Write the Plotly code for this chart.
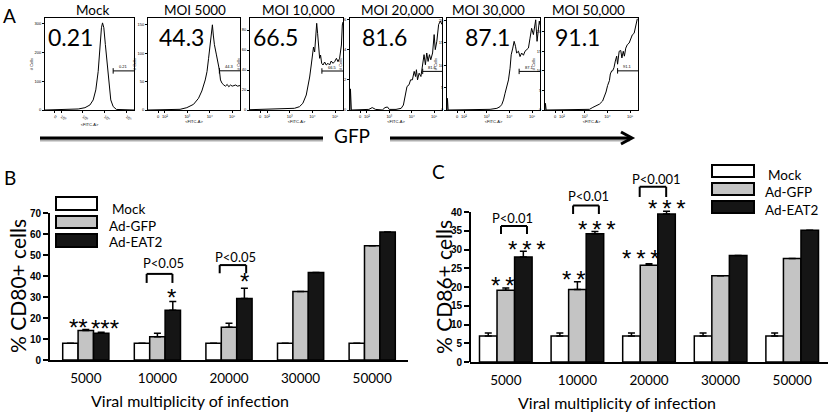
import plotly.graph_objects as go

W, H = 834, 413


def px(x):
    return x / W


def py(y):
    return 1 - y / H


TEXT_FONT = "Lato"
TICK_FONT = "Liberation Sans"

# ---------------- Panel A: flow cytometry histograms ----------------
panel_a_titles = ["Mock", "MOI 5000", "MOI 10,000", "MOI 20,000", "MOI 30,000", "MOI 50,000"]
gfp_positive = ["0.21", "44.3", "66.5", "81.6", "87.1", "91.1"]

fitc_mock = [1.25, 2.32, 2.78, 3.09, 3.32, 3.47, 3.59, 3.70, 3.77, 3.85, 3.90, 3.96, 4.03, 4.11, 4.19, 4.28, 4.39, 4.54, 5.35]
cells_mock = [0, 1, 3.5, 8, 17.5, 35, 70, 134, 216, 286, 303, 286, 228, 158, 88, 35, 12, 2, 0]

fitc_5000 = [1.25, 2.53, 2.68, 2.98, 3.28, 3.50, 3.65, 3.80, 3.88, 3.95, 4.03, 4.07, 4.12, 4.16, 4.21, 4.30, 4.37, 4.43,
             4.48, 4.55, 4.63, 4.70, 4.78, 4.85, 4.93, 5.00, 5.08, 5.16, 5.23, 5.35]
cells_5000 = [0, 0, 1.2, 4.1, 10, 20.6, 33.5, 52.9, 67.6, 91, 120.6, 138, 150, 132, 115, 97, 85, 70.6,
              52.9, 47, 44, 42, 45, 41, 44, 42, 43, 44, 42, 43]

fitc_10000 = [1.25, 2.40, 2.99, 3.21, 3.43, 3.58, 3.73, 3.80, 3.88, 3.95, 4.02, 4.05, 4.10, 4.14, 4.19, 4.23, 4.27,
              4.32, 4.36, 4.41, 4.47, 4.54, 4.61, 4.69, 4.76, 4.83, 4.91, 4.98, 5.06, 5.13, 5.20, 5.28, 5.32, 5.35]
cells_10000 = [0.3, 0.7, 1, 1.7, 3.3, 6.7, 15, 23, 33, 45, 56.7, 63, 58, 75, 86.7, 76.7, 61.7,
               51.7, 55, 46.7, 45, 48, 45, 46.7, 45, 49, 46.7, 48.3, 51.7, 48.3, 51.7, 65, 85, 88]

fitc_20000 = [1.25, 1.27, 1.31, 2.09, 2.24, 2.39, 2.69, 2.81, 2.92, 3.00, 3.30, 3.53, 3.63, 3.73, 3.79, 3.88, 3.95,
              4.03, 4.11, 4.17, 4.21, 4.26, 4.33, 4.41, 4.47, 4.55, 4.61, 4.67, 4.73, 4.79, 4.85, 4.93, 5.00,
              5.05, 5.12, 5.20, 5.28, 5.35]
cells_20000 = [0, 1.4, 0, 0.04, 0.16, 0.04, 0, 0.16, 0.2, 0.04, 0.04, 0.11, 0.33, 1.0, 1.56, 1.67, 2.0,
               2.0, 2.56, 2.22, 2.67, 2.0, 2.44, 2.22, 2.78, 3.67, 3.0, 3.78, 3.22, 3.67, 3.33, 3.78, 5.0,
               4.0, 4.56, 5.67, 5.89, 5.67]

fitc_30000 = [1.25, 1.27, 1.30, 2.67, 3.15, 3.45, 3.59, 3.67, 3.74, 3.81, 3.89, 3.96, 4.03, 4.08, 4.15, 4.21,
              4.27, 4.32, 4.40, 4.47, 4.54, 4.62, 4.69, 4.76, 4.84, 4.91, 4.98, 5.06, 5.10, 5.16, 5.22, 5.28,
              5.32, 5.35]
cells_30000 = [0, 2.6, 0, 0, 0.15, 0.37, 0.75, 1.27, 2.24, 3.73, 5.2, 6.7, 9.3, 12.3, 13.8, 15.3,
               14.2, 12.7, 13.1, 11.9, 12.7, 12.2, 13.1, 13.4, 13.8, 16.0, 18.2, 16.8, 18.6, 20.1, 15.3, 17.5,
               19.8, 19.0]

fitc_50000 = [1.25, 1.27, 1.30, 3.07, 3.21, 3.36, 3.50, 3.65, 3.79, 3.87, 3.94, 4.01, 4.09, 4.13, 4.19, 4.23,
              4.29, 4.35, 4.41, 4.45, 4.49, 4.52, 4.59, 4.64, 4.70, 4.75, 4.81, 4.88, 4.96, 5.03, 5.10, 5.18,
              5.25, 5.32]
cells_50000 = [0, 1.7, 0, 0, 0.17, 0.67, 1.0, 1.5, 2.3, 3.3, 4.6, 6.25, 7.5, 9.2, 10, 10,
               10.8, 12.5, 13.75, 11.7, 13.3, 15, 15.2, 13.3, 15, 13.75, 15.8, 16.7, 17.1, 18.3, 19.2, 19.6,
               21.7, 23.3]

hist_fitc = [fitc_mock, fitc_5000, fitc_10000, fitc_20000, fitc_30000, fitc_50000]
hist_cells = [cells_mock, cells_5000, cells_10000, cells_20000, cells_30000, cells_50000]
hist_ymax = [320, 162, 92, 6.1, 20.5, 23.5]
hist_yticks = [[0, 100, 200, 300], [0, 50, 100, 150], [0, 20, 40, 60, 80], [0, 2, 4, 6],
               [0, 5, 10, 15, 20], [0, 5, 10, 15, 20]]
gate_level = [136, 69, 39, 2.56, 8.6, 10]
gate_start = [4.39, 4.43, 4.42, 4.49, 4.43, 4.45]
fitc_range = [1.25, 5.35]
fitc_tickvals = [1.7, 2.0, 3, 4, 5]
fitc_ticktext = ["0", "10²", "10³", "10⁴", "10⁵"]

# ---------------- Panels B and C: bar charts ----------------
moi = ["5000", "10000", "20000", "30000", "50000"]
groups = ["Mock", "Ad-GFP", "Ad-EAT2"]

cd80_mock = [8.0, 8.0, 8.0, 8.0, 8.0]
cd80_gfp = [14.0, 11.1, 15.6, 32.6, 54.4]
cd80_eat2 = [12.7, 23.7, 29.3, 41.7, 60.9]
cd80_mock_err = [0, 0, 0, 0, 0]
cd80_gfp_err = [0.5, 1.6, 1.9, 0, 0]
cd80_eat2_err = [0.5, 4.2, 4.9, 0, 0]

cd86_mock = [6.9, 6.9, 6.9, 6.9, 6.9]
cd86_gfp = [19.1, 19.3, 25.8, 23.0, 27.6]
cd86_eat2 = [28.0, 34.2, 39.5, 28.4, 35.1]
cd86_mock_err = [0.8, 0.8, 0.8, 0.8, 0.8]
cd86_gfp_err = [0.6, 2.1, 0.4, 0, 0]
cd86_eat2_err = [1.5, 0.6, 0.7, 0, 0]

cd80_ticks = [0, 10, 20, 30, 40, 50, 60, 70]
cd86_ticks = [0, 5, 10, 15, 20, 25, 30, 35, 40]

bar_fill = ["white", "#c4c4c4", "#151515"]

fig = go.Figure()
shapes = []
annotations = []
layout_axes = {}


def note(x, y, text, size, family=TEXT_FONT, xref="paper", yref="paper", **kw):
    d = dict(xref=xref, yref=yref, x=x, y=y, text=text, showarrow=False,
             xanchor="center", yanchor="middle",
             font=dict(size=size, family=family, color="black"))
    d.update(kw)
    annotations.append(d)


# ---------------- Panel A drawing ----------------
box_left = [45, 148, 250, 350, 447, 545]
box_right = [134, 240, 343, 442, 540, 638]
box_top, box_bottom = 18, 110
title_x = [92, 195, 298, 397, 488, 588]
number_x = [70, 181, 275, 384, 487, 577]

for i in range(6):
    sfx = "" if i == 0 else str(i + 1)
    xa, ya = "x" + sfx, "y" + sfx
    fig.add_trace(go.Scatter(x=hist_fitc[i], y=hist_cells[i], mode="lines",
                             line=dict(color="black", width=1), xaxis=xa, yaxis=ya,
                             showlegend=False, hoverinfo="skip"))
    layout_axes["xaxis" + sfx] = dict(
        domain=[px(box_left[i]), px(box_right[i])], range=fitc_range, anchor=ya, automargin=False,
        showline=True, mirror=True, linecolor="black", linewidth=1,
        ticks="outside", ticklen=2, tickwidth=0.6, tickcolor="black",
        tickvals=fitc_tickvals, ticktext=fitc_ticktext,
        tickfont=dict(size=4, family=TICK_FONT, color="black"),
        showgrid=False, zeroline=False,
        title=dict(text="&lt;FITC-A&gt;", font=dict(size=4, family=TICK_FONT), standoff=1))
    layout_axes["yaxis" + sfx] = dict(
        domain=[py(box_bottom), py(box_top)], range=[0, hist_ymax[i]], anchor=xa, automargin=False,
        showline=True, mirror=True, linecolor="black", linewidth=1,
        ticks="outside", ticklen=2, tickwidth=0.6, tickcolor="black",
        tickvals=hist_yticks[i], tickfont=dict(size=4, family=TICK_FONT, color="black"),
        showgrid=False, zeroline=False,
        title=dict(text="# Cells", font=dict(size=4, family=TICK_FONT), standoff=1))
    # gate
    shapes.append(dict(type="line", xref=xa, yref=ya, x0=gate_start[i], x1=fitc_range[1],
                       y0=gate_level[i], y1=gate_level[i], line=dict(color="black", width=1)))
    shapes.append(dict(type="line", xref=xa, yref=ya, x0=gate_start[i], x1=gate_start[i],
                       y0=gate_level[i] * 0.93, y1=gate_level[i] * 1.07, line=dict(color="black", width=1)))
    note((gate_start[i] + fitc_range[1]) / 2, gate_level[i], gfp_positive[i], 4, TICK_FONT,
         xref=xa, yref=ya, yshift=4)
    note(px(title_x[i]), py(10), panel_a_titles[i], 13.5)
    note(px(number_x[i]), py(37), gfp_positive[i], 23)

# GFP arrow
for (x0, x1) in [(40, 323), (390, 630)]:
    shapes.append(dict(type="line", xref="paper", yref="paper", x0=px(x0), x1=px(x1), y0=py(140), y1=py(140),
                       line=dict(color="#b0b0b0", width=3)))
    shapes.append(dict(type="line", xref="paper", yref="paper", x0=px(x0), x1=px(x1), y0=py(138), y1=py(138),
                       line=dict(color="black", width=3)))
shapes.append(dict(type="path", xref="paper", yref="paper",
                   path=f"M {px(621)} {py(132)} L {px(632)} {py(138)} L {px(621)} {py(144)}",
                   line=dict(color="black", width=3)))
note(px(352), py(135), "GFP", 19)

# panel letters
for letter, (lx, ly) in zip(["A", "B", "C"], [(9, 15), (10, 177), (439, 171)]):
    note(px(lx), py(ly), letter, 19)


# ---------------- Panels B and C drawing ----------------
def add_bars(xa, ya, vals, errs, width):
    for k in range(3):
        fig.add_trace(go.Bar(
            x=moi, y=vals[k], xaxis=xa, yaxis=ya, width=width, offset=-1.5 * width + k * width,
            marker=dict(color=bar_fill[k], line=dict(color="black", width=1.5)),
            error_y=dict(type="data", array=errs[k], arrayminus=[0] * len(errs[k]), symmetric=False,
                         color="black", thickness=1.5, width=3.5),
            name=groups[k], showlegend=False, hoverinfo="skip"))


add_bars("x7", "y7", [cd80_mock, cd80_gfp, cd80_eat2], [cd80_mock_err, cd80_gfp_err, cd80_eat2_err], 0.215)
add_bars("x8", "y8", [cd86_mock, cd86_gfp, cd86_eat2], [cd86_mock_err, cd86_gfp_err, cd86_eat2_err], 0.245)

common_x = dict(type="category", range=[-0.5, 4.5], showline=True, linewidth=2, linecolor="black",
                ticks="", tickfont=dict(size=13.5, family=TEXT_FONT, color="black"), automargin=False,
                ticklabelstandoff=5, showgrid=False, zeroline=False)
common_y = dict(ticks="outside", ticklen=5, tickwidth=2, tickcolor="black", automargin=False,
                tickfont=dict(size=10, family="Liberation Sans", color="black"),
                showticklabels=True, showgrid=False, zeroline=False)

layout_axes["xaxis7"] = dict(domain=[px(50), px(408)], anchor="y7", **common_x)
layout_axes["yaxis7"] = dict(domain=[py(360), py(213)], range=[0, 70], anchor="x7",
                             tickvals=cd80_ticks, ticktext=[f"<b>{t}</b>" for t in cd80_ticks],
                             showline=True, linewidth=2, linecolor="black", **common_y)
layout_axes["xaxis8"] = dict(domain=[px(470), px(828)], anchor="y8", **common_x)
layout_axes["yaxis8"] = dict(domain=[py(362), py(362 - 50 * 3.75)], range=[0, 50], anchor="x8",
                             tickvals=cd86_ticks, ticktext=[f"<b>{t}</b>" for t in cd86_ticks],
                             showline=False, **common_y)
shapes.append(dict(type="line", xref="paper", yref="y8", x0=px(470), x1=px(470), y0=0, y1=40,
                   line=dict(color="black", width=2)))

# axis titles
note(px(17), py(286), "% CD80+ cells", 21, textangle=-90)
note(px(443), py(287), "% CD86+ cells", 21, textangle=-90)
note(px(190), py(400), "Viral multiplicity of infection", 16)
note(px(617), py(402), "Viral multiplicity of infection", 16)

# legends (drawn boxes + labels)
legend_b = dict(x0=56, x1=97, rows=[(197, 210, 209), (216, 228, 226), (234, 247, 242)], tx=107)
legend_c = dict(x0=712, x1=754, rows=[(165, 177, 175), (183, 195, 192), (201, 213, 210)], tx=763)
for lg in [legend_b, legend_c]:
    for k, (y0, y1, ty) in enumerate(lg["rows"]):
        shapes.append(dict(type="rect", xref="paper", yref="paper", x0=px(lg["x0"]), x1=px(lg["x1"]),
                           y0=py(y1), y1=py(y0), fillcolor=bar_fill[k], line=dict(color="black", width=2)))
        note(px(lg["tx"] + (3 if k == 0 else 0)), py(ty), groups[k], 13.5, xanchor="left")


# significance brackets and stars
def bracket(xa, ya, xl, xr, ytop, yleg):
    for (a, b, c, d) in [(xl, xl, yleg, ytop), (xl, xr, ytop, ytop), (xr, xr, ytop, yleg)]:
        shapes.append(dict(type="line", xref=xa, yref=ya, x0=a, x1=b, y0=c, y1=d,
                           line=dict(color="black", width=2)))


STAR = 24
TS = "\u2009"
# Panel B
note(-0.105, 15.3, "**", STAR, TICK_FONT, xref="x7", yref="y7")
note(0.268, 15.0, "***", STAR, TICK_FONT, xref="x7", yref="y7")
bracket("x7", "y7", 0.85, 1.21, 41.0, 36.7)
note(1.09, 46.0, "P&lt;0.05", 13, xref="x7", yref="y7")
note(1.2, 29.6, "*", STAR, TICK_FONT, xref="x7", yref="y7")
bracket("x7", "y7", 1.87, 2.24, 45.2, 41.3)
note(2.09, 48.9, "P&lt;0.05", 13, xref="x7", yref="y7")
note(2.22, 37.6, "*", STAR, TICK_FONT, xref="x7", yref="y7")
# Panel C
bracket("x8", "y8", -0.067, 0.296, 36.3, 34.1)
note(0.10, 38.4, "P&lt;0.01", 13, xref="x8", yref="y8")
note(-0.04, 20.4, TS.join("**"), STAR, TICK_FONT, xref="x8", yref="y8")
note(0.296, 30.0, TS.join("***"), STAR, TICK_FONT, xref="x8", yref="y8")
bracket("x8", "y8", 0.94, 1.30, 41.7, 39.5)
note(1.15, 44.3, "P&lt;0.01", 13, xref="x8", yref="y8")
note(0.95, 22.0, TS.join("**"), STAR, TICK_FONT, xref="x8", yref="y8")
note(1.27, 35.3, TS.join("***"), STAR, TICK_FONT, xref="x8", yref="y8")
bracket("x8", "y8", 1.87, 2.24, 46.7, 44.0)
note(2.11, 48.8, "P&lt;0.001", 13, xref="x8", yref="y8")
note(1.89, 27.6, TS.join("***"), STAR, TICK_FONT, xref="x8", yref="y8")
note(2.25, 40.9, TS.join("***"), STAR, TICK_FONT, xref="x8", yref="y8")

fig.update_layout(
    width=W, height=H, margin=dict(l=0, r=0, t=0, b=0, autoexpand=False),
    paper_bgcolor="white", plot_bgcolor="rgba(0,0,0,0)",
    barmode="overlay", showlegend=False,
    font=dict(family=TEXT_FONT, color="black"),
    shapes=shapes, annotations=annotations,
    **layout_axes,
)

fig.write_html("out.html", config={"displayModeBar": False},
               post_script="document.body.style.margin='0px';document.body.style.padding='0px';")
